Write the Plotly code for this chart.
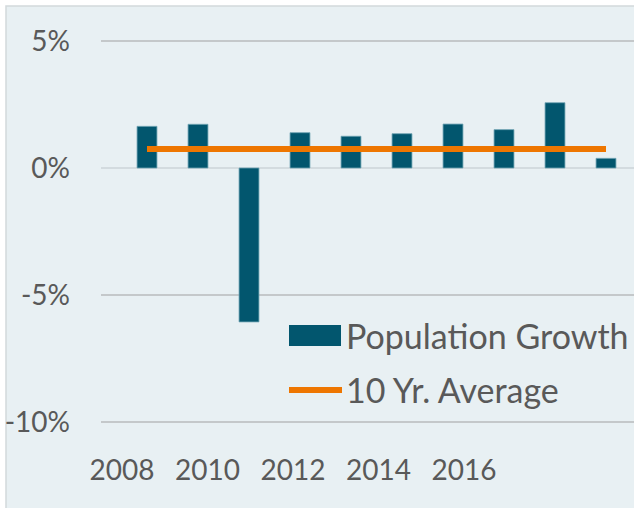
import plotly.graph_objects as go

years = [2008, 2009, 2010, 2011, 2012, 2013, 2014, 2015, 2016, 2017]
growth = [1.64, 1.72, -6.06, 1.39, 1.25, 1.35, 1.73, 1.51, 2.57, 0.38]
avg10 = [0.75, 0.75, 0.75, 0.75, 0.75, 0.75, 0.75, 0.75, 0.75, 0.75]
label_years = [2008, 2010, 2012, 2014, 2016]
y_ticks = [-10, -5, 0, 5]
series_names = ["Population Growth", "10 Yr. Average"]

BAR_COLOR = "#02566e"
LINE_COLOR = "#ee7600"
BG = "#e8f0f3"
TXT = "#595959"
FONT = "Lato"

W, H = 634, 508
L, R, T, B = 101, 0, 6, 63
pw, ph = W - L - R, H - T - B


def px_x(p):
    return (p - L) / pw


def px_y(p):
    return (H - B - p) / ph


fig = go.Figure()
fig.add_trace(go.Bar(
    x=years, y=growth, name=series_names[0], width=0.39,
    marker=dict(color=BAR_COLOR, line=dict(color="#6fa3b3", width=0.8)),
    showlegend=False,
))
fig.add_trace(go.Scatter(
    x=years, y=avg10, name=series_names[1], mode="lines",
    line=dict(color=LINE_COLOR, width=6),
    showlegend=False,
))
# helper trace for the label axis
fig.add_trace(go.Scatter(
    x=label_years, y=[None] * len(label_years), xaxis="x2", mode="markers",
    showlegend=False, hoverinfo="skip",
))

# x scales
bar_x0 = 2008 - 46 / 51
bar_x1 = 2008 + 487 / 51
lab_x0 = 2008 - 21 / 42.75
lab_x1 = 2008 + 512 / 42.75

fig.update_layout(
    width=W, height=H,
    margin=dict(l=L, r=R, t=T, b=B, pad=0),
    paper_bgcolor="white",
    plot_bgcolor="rgba(0,0,0,0)",
    font=dict(family=FONT, color=TXT, size=28),
    showlegend=False,
    bargap=0.6,
    xaxis=dict(range=[bar_x0, bar_x1], showticklabels=False, showgrid=False,
               zeroline=False, ticks="", showline=False),
    xaxis2=dict(range=[lab_x0, lab_x1], overlaying="x", anchor="y", side="bottom",
                tickvals=label_years, ticktext=[str(v) for v in label_years],
                showgrid=False, zeroline=False, ticks="", showline=False,
                tickfont=dict(size=28, color=TXT), ticklabelstandoff=6),
    yaxis=dict(range=[-10 - 23 / 25.4, 5 + 35 / 25.4], tickvals=y_ticks,
               ticktext=[f"{v}%" for v in y_ticks],
               showgrid=True, gridcolor="#c4c8ca", gridwidth=1.5,
               zeroline=True, zerolinecolor="#d3dbdf", zerolinewidth=2,
               ticks="", showline=False, ticklabelstandoff=30,
               tickfont=dict(size=28, color=TXT)),
    shapes=[
        dict(type="rect", xref="paper", yref="paper", layer="below",
             x0=px_x(6), x1=px_x(640), y0=px_y(520), y1=px_y(6),
             fillcolor=BG, line=dict(color="#d2d9dc", width=1.5)),
        dict(type="rect", xref="paper", yref="paper",
             x0=px_x(289), x1=px_x(341), y0=px_y(346), y1=px_y(325),
             fillcolor=BAR_COLOR, line=dict(width=0)),
        dict(type="line", xref="paper", yref="paper",
             x0=px_x(289), x1=px_x(342), y0=px_y(390), y1=px_y(390),
             line=dict(color=LINE_COLOR, width=6)),
    ],
    annotations=[
        dict(text=series_names[0], xref="paper", yref="paper", x=px_x(344), y=px_y(335),
             xanchor="left", yanchor="middle", showarrow=False,
             font=dict(size=34, color=TXT, family=FONT)),
        dict(text=series_names[1], xref="paper", yref="paper", x=px_x(344), y=px_y(389),
             xanchor="left", yanchor="middle", showarrow=False,
             font=dict(size=34, color=TXT, family=FONT)),
    ],
)

fig.write_html("out.html", config={"displayModeBar": False})
with open("out.html", encoding="utf-8") as f:
    html = f.read()
html = html.replace("<body>", '<body style="margin:0;padding:0;overflow:hidden">', 1)
with open("out.html", "w", encoding="utf-8") as f:
    f.write(html)
